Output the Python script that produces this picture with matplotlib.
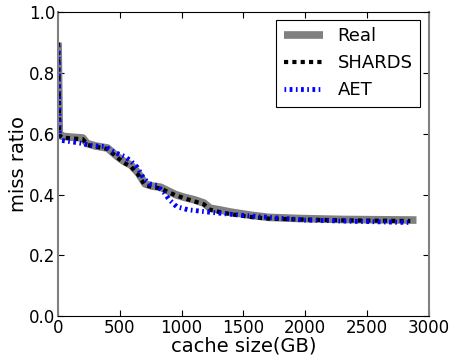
import matplotlib
matplotlib.use("Agg")
from matplotlib import pyplot as plt

# miss ratio curves
real_x = [0, 5, 10, 30, 100, 200, 235, 300, 400, 480, 530, 590, 650, 705, 760,
          830, 890, 950, 1020, 1100, 1180, 1230, 1300, 1400, 1560, 1700, 1960,
          2300, 2600, 2900]
real_y = [0.90, 0.75, 0.60, 0.592, 0.589, 0.586, 0.568, 0.560, 0.553, 0.525,
          0.510, 0.497, 0.470, 0.435, 0.428, 0.424, 0.412, 0.400, 0.391, 0.383,
          0.372, 0.355, 0.350, 0.342, 0.332, 0.325, 0.321, 0.318, 0.317, 0.316]

shards_x = [0, 5, 10, 30, 100, 200, 240, 300, 400, 480, 530, 590, 650, 700, 760,
            830, 890, 950, 1020, 1100, 1180, 1230, 1300, 1400, 1560, 1700, 1960,
            2300, 2600, 2850]
shards_y = [0.90, 0.75, 0.595, 0.588, 0.585, 0.582, 0.563, 0.558, 0.550, 0.522,
            0.505, 0.492, 0.465, 0.432, 0.425, 0.420, 0.408, 0.398, 0.388, 0.378,
            0.368, 0.350, 0.343, 0.335, 0.326, 0.321, 0.318, 0.315, 0.314, 0.313]

aet_x = [0, 5, 10, 30, 100, 200, 250, 300, 380, 430, 480, 540, 590, 640, 690,
         740, 800, 860, 900, 960, 1050, 1200, 1400, 1600, 1800, 2000, 2400, 2850]
aet_y = [0.89, 0.75, 0.585, 0.578, 0.574, 0.568, 0.562, 0.560, 0.558, 0.545,
         0.535, 0.525, 0.510, 0.490, 0.455, 0.435, 0.430, 0.405, 0.383, 0.360,
         0.350, 0.343, 0.335, 0.328, 0.322, 0.316, 0.312, 0.308]

x_ticks = [0, 500, 1000, 1500, 2000, 2500, 3000]
y_ticks = [0.0, 0.2, 0.4, 0.6, 0.8, 1.0]

plt.rcParams['lines.scale_dashes'] = False
plt.rcParams['font.family'] = ['DejaVu Sans']

fig = plt.figure(figsize=(4.5, 3.58), dpi=100)
ax = fig.add_axes([0.129, 0.117, 0.824, 0.849])

ax.plot(real_x, real_y, color='gray', lw=5.5, solid_capstyle='butt',
        solid_joinstyle='round', label='Real')
ax.plot(shards_x, shards_y, color='black', lw=3, linestyle=(0, (3, 3)), label='SHARDS')
ax.plot(aet_x, aet_y, color='blue', lw=3.5, linestyle=(0, (1.2, 2.5, 2, 2.5)), label='AET')

ax.set_xlim(0, 3000)
ax.set_ylim(0, 1.0)
ax.set_xticks(x_ticks)
ax.set_yticks(y_ticks)
ax.set_yticklabels(["%.1f" % v for v in y_ticks])
ax.tick_params(direction='in', top=True, right=True, length=4, labelsize=12, pad=2)

for side in ['left', 'right']:
    ax.spines[side].set_color('gray')
    ax.spines[side].set_linewidth(1.5)

ax.set_xlabel('cache size(GB)', fontsize=14, labelpad=0)
ax.set_ylabel('miss ratio', fontsize=14, labelpad=1)

leg = ax.legend(loc='upper right', fontsize=13, fancybox=False, framealpha=1,
                edgecolor='black', handlelength=2.2, borderpad=0.4,
                borderaxespad=0, bbox_to_anchor=(0.976, 0.974))
leg.get_frame().set_linewidth(0.8)

fig.savefig('out.png', dpi=100)
